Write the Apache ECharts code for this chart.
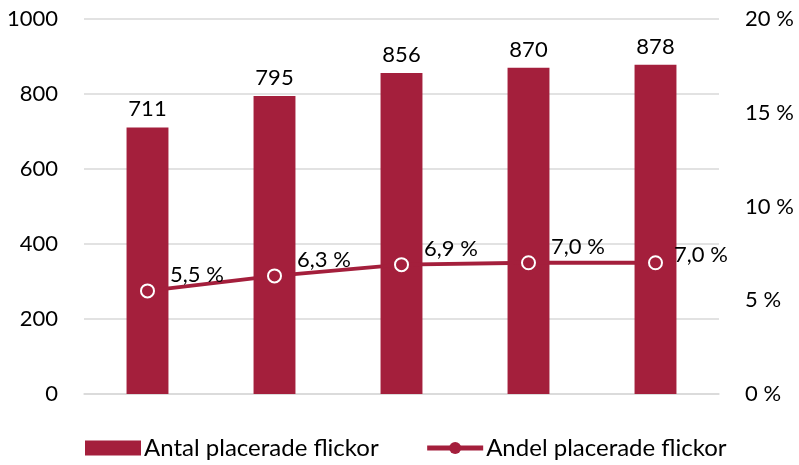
<!DOCTYPE html>
<html>
<head>
<meta charset="utf-8">
<script src="https://cdn.jsdelivr.net/npm/echarts@6/dist/echarts.min.js"></script>
<style>
  html, body { margin: 0; padding: 0; background: #fff; }
  #chart { width: 799px; height: 465px; }
</style>
</head>
<body>
<div id="chart"></div>
<script>
const categories = ['1', '2', '3', '4', '5'];
const antal = [711, 795, 856, 870, 878];
const andel = [5.5, 6.3, 6.9, 7.0, 7.0];

const color = '#A41F3C';
const font = 'Lato, "Open Sans", sans-serif';
const pct = (v) => v.toFixed(1).replace('.', ',') + ' %';

const chart = echarts.init(document.getElementById('chart'));

// the last label sits lower in the original
const andelData = andel.map((v, i) => ({
    value: v,
    label: i === andel.length - 1 ? { offset: [6, -8] } : undefined,
}));

chart.setOption({
    animation: false,
    textStyle: { fontFamily: font, color: '#000' },
    grid: { left: 84, right: 80, top: 19, bottom: 71, containLabel: false },
    legend: {
        bottom: 0,
        left: 80,
        itemGap: 46,
        itemWidth: 56,
        itemHeight: 15,
        textStyle: { fontSize: 24, color: '#000', fontFamily: font, padding: [0, 0, 0, -2] },
        data: [
            { name: 'Antal placerade flickor', icon: 'rect' },
            {
                name: 'Andel placerade flickor',
                itemStyle: { color, borderWidth: 0 },
                lineStyle: { color, width: 5 },
            },
        ],
    },
    xAxis: {
        type: 'category',
        data: categories,
        axisLabel: { show: false },
        axisTick: { show: false },
        axisLine: { lineStyle: { color: '#d9d9d9', width: 1.5 } },
    },
    yAxis: [
        {
            type: 'value',
            min: 0,
            max: 1000,
            interval: 200,
            axisLabel: { fontSize: 22, color: '#000', margin: 26, formatter: (v) => String(v) },
            splitLine: { lineStyle: { color: '#d9d9d9', width: 1.5 } },
        },
        {
            type: 'value',
            min: 0,
            max: 20,
            interval: 5,
            position: 'right',
            axisLabel: { fontSize: 22, color: '#000', margin: 26, formatter: (v) => v + ' %' },
            splitLine: { show: false },
        },
    ],
    series: [
        {
            name: 'Antal placerade flickor',
            type: 'bar',
            data: antal,
            barWidth: '33%',
            itemStyle: { color },
            label: { show: true, position: 'top', fontSize: 22, color: '#000', distance: 7 },
        },
        {
            name: 'Andel placerade flickor',
            type: 'line',
            yAxisIndex: 1,
            data: andelData,
            symbol: 'circle',
            symbolSize: 13,
            lineStyle: { color, width: 4 },
            itemStyle: { color, borderColor: '#fff', borderWidth: 2 },
            label: {
                show: true,
                position: 'right',
                offset: [10, -16],
                fontSize: 22,
                color: '#000',
                formatter: (p) => pct(p.value),
            },
        },
    ],
});
</script>
</body>
</html>
